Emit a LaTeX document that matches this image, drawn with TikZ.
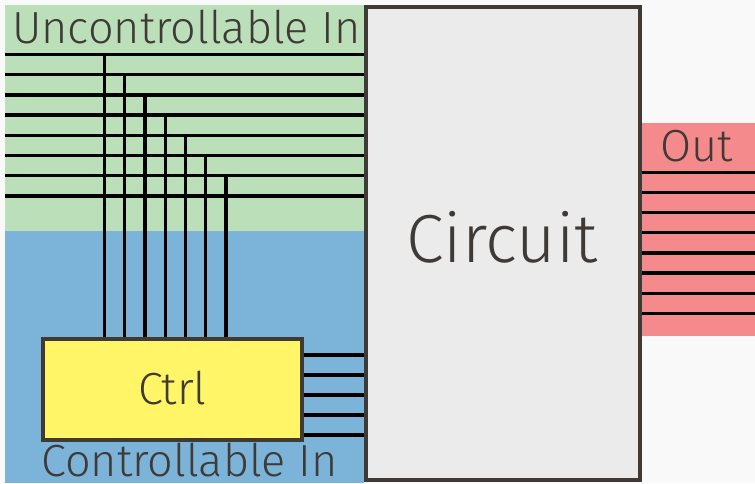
\documentclass[tikz,border=0pt]{standalone}
\usepackage{fontspec}
\setmainfont{Fira Sans}[UprightFont=* Light]
\usetikzlibrary{backgrounds}
\definecolor{bgc}{HTML}{F9F9F9}
\definecolor{ucgreen}{HTML}{BBDFB8}
\definecolor{cblue}{HTML}{7BB3D9}
\definecolor{outred}{HTML}{F48A8C}
\definecolor{ctrlyellow}{HTML}{FFF566}
\definecolor{circgray}{HTML}{EBEBEB}
\definecolor{edge}{HTML}{3F3A36}
\tikzset{
  wire/.style={line width=3.4pt, black},
  boxstyle/.style={draw=edge, line width=4pt, inner sep=0pt, rectangle},
  lbl/.style={text=edge, inner sep=0pt, font=\fontsize{45}{50}\selectfont},
}
\begin{document}
\begin{tikzpicture}[x=1pt,y=-1pt]
\useasboundingbox (0,0) rectangle (755,483);
\node[boxstyle, fill=ctrlyellow, minimum width=259pt, minimum height=101pt,
      text height=31pt, text depth=0pt, lbl] (ctrl) at (172.5,389.2) {Ctrl};
\node[boxstyle, fill=circgray, minimum width=274pt, minimum height=473pt] (circ) at (503,243.5) {};
\begin{scope}[on background layer]
\fill[bgc] (0,0) rectangle (755,483);
\fill[ucgreen] (5,5) rectangle (circ.west |- 0,231);
\fill[cblue] (5,231) rectangle (circ.west |- 0,483);
\fill[outred] (circ.east |- 0,123) rectangle (755,336);
% uncontrollable inputs
\foreach \i in {0,...,7}{
  \coordinate (u\i) at (5,{54.5+20.2*\i});
  \draw[wire] (u\i) -- (circ.west |- u\i);
}
\foreach \j in {0,...,6}{
  \coordinate (v\j) at ({104.5+20.25*\j},{54.5+20.2*\j});
  \draw[wire] (v\j) -- (v\j |- ctrl.north);
}
% controllable outputs of ctrl
\foreach \k in {0,...,4}{
  \coordinate (c\k) at (ctrl.east |- 0,{355+20*\k});
  \draw[wire] (c\k) -- (circ.west |- c\k);
}
% outputs
\foreach \m in {0,...,7}{
  \coordinate (o\m) at (circ.east |- 0,{172.3+20.15*\m});
  \coordinate (oe\m) at (755,{172.3+20.15*\m});
  \draw[wire] (o\m) -- (oe\m);
}
\end{scope}
\node[lbl, anchor=base, font=\fontsize{68}{78}\selectfont] (circt) at (502,262) {Circuit};
\node[lbl, anchor=base west] (unc) at (12,43) {Uncontrollable In};
\node[lbl, anchor=base west] (con) at (41,476) {Controllable In};
\node[lbl, anchor=base] (out) at (697,161) {Out};
\end{tikzpicture}
\end{document}
